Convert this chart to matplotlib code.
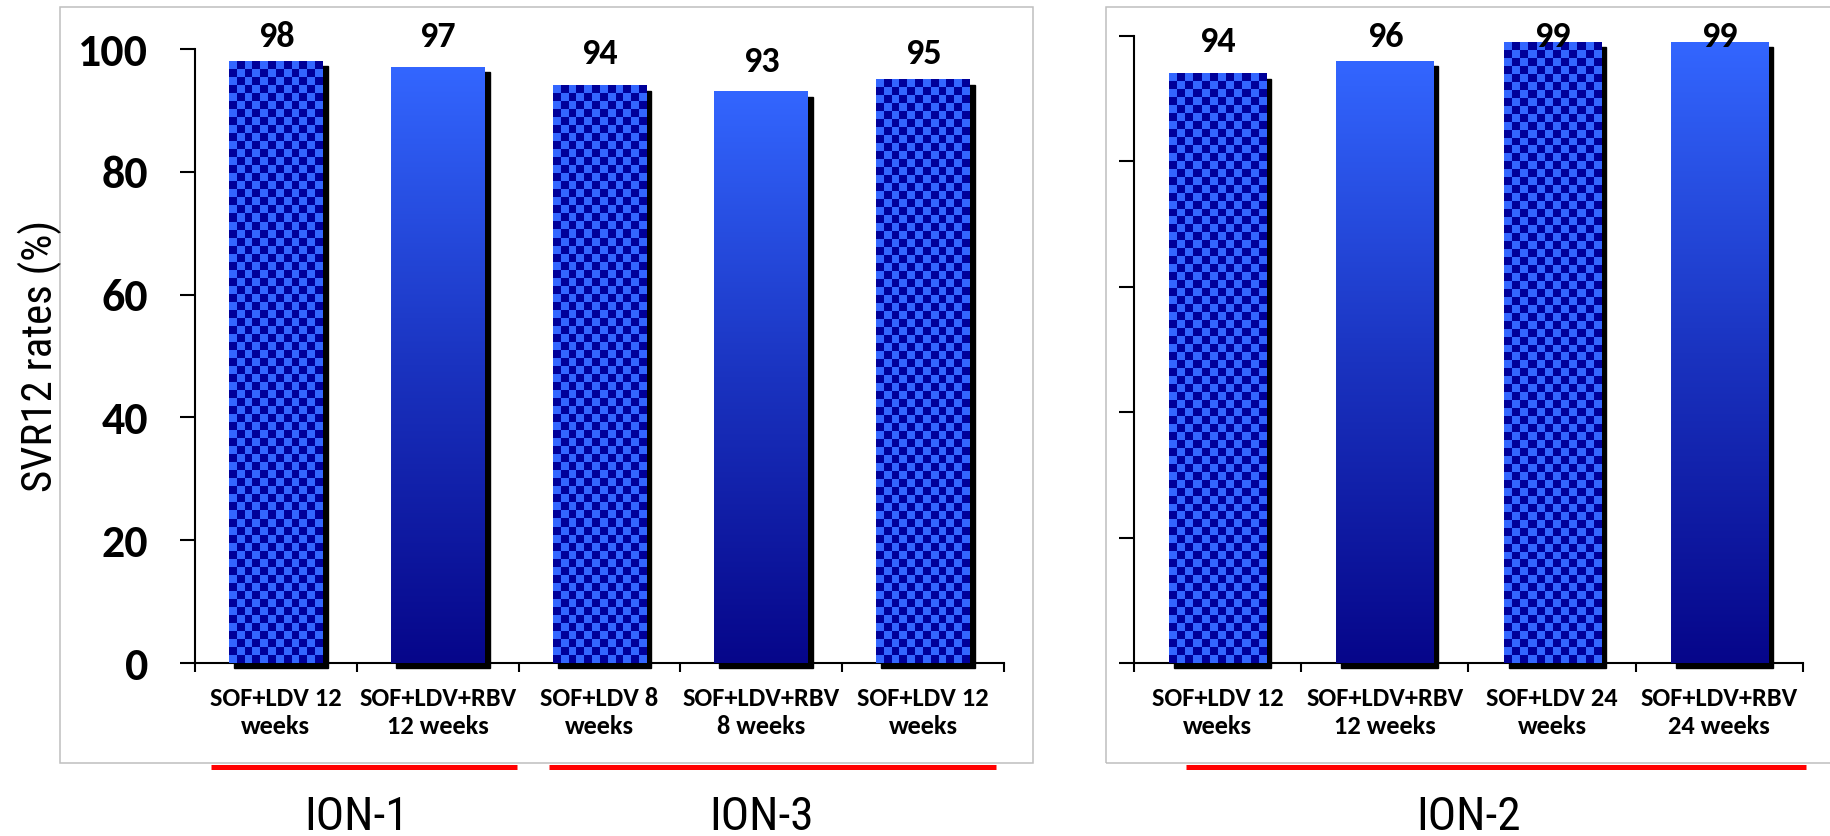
import matplotlib.pyplot as plt
import numpy as np
import matplotlib.transforms as mtransforms
from matplotlib.colors import LinearSegmentedColormap, to_rgb
from matplotlib.patches import Rectangle
from matplotlib.lines import Line2D

# ION-1 / ION-3 arms
left_labels = ["SOF+LDV 12\nweeks", "SOF+LDV+RBV\n12 weeks", "SOF+LDV 8\nweeks",
               "SOF+LDV+RBV\n8 weeks", "SOF+LDV 12\nweeks"]
left_svr = [98, 97, 94, 93, 95]
left_rbv = [False, True, False, True, False]
left_groups = [("ION-1", [0, 1]), ("ION-3", [2, 3, 4])]

# ION-2 arms
right_labels = ["SOF+LDV 12\nweeks", "SOF+LDV+RBV\n12 weeks", "SOF+LDV 24\nweeks",
                "SOF+LDV+RBV\n24 weeks"]
right_svr = [94, 96, 99, 99]
right_rbv = [False, True, False, True]
right_groups = [("ION-2", [0, 1, 2, 3])]

y_ticks = [0, 20, 40, 60, 80, 100]

# styling
light = "#3366FF"
dark = "#000099"
grad_cmap = LinearSegmentedColormap.from_list("bar", ["#06068A", "#1A33C0", light])
bar_width = 0.58
square_px = 8
shadow_px = 5
label_gap_left = [14, 20, 22, 20, 16]     # px between bar top and value
label_gap_right = [22, 14, -5, -5]
bracket_pad_left = [(-0.4, 0.49), (-0.31, 0.45)]
bracket_pad_right = [(-0.19, 0.52)]

plt.rcParams['font.family'] = ['Carlito', 'Lato', 'DejaVu Sans']
narrow = ['Roboto Condensed', 'Liberation Sans', 'DejaVu Sans']

W, H, DPI = 1831, 836, 100
fig = plt.figure(figsize=(W / DPI, H / DPI), dpi=DPI)

# panel frames
fig.add_artist(Rectangle((60 / W, 1 - 763 / H), 973 / W, 756 / H, transform=fig.transFigure,
                         fill=False, ec="#BFBFBF", lw=1.1))
fig.add_artist(Rectangle((1106 / W, 1 - 763 / H), 0.5, 756 / H, transform=fig.transFigure,
                         fill=False, ec="#BFBFBF", lw=1.1))

ax1 = fig.add_axes([195 / W, 1 - 663 / H, (1004 - 195) / W, (663 - 49) / H])
ax2 = fig.add_axes([1134 / W, 1 - 663 / H, (1803 - 1134) / W, (663 - 36) / H])


def draw_panel(ax, labels, values, rbv, gaps, groups, pads, show_ylabels):
    n = len(values)
    ax.set_xlim(-0.5, n - 0.5)
    ax.set_ylim(0, 100)
    bb = ax.get_position()
    px_x = n / (bb.width * W)       # data units per px, x
    px_y = 100 / (bb.height * H)    # data units per px, y

    for i, (v, solid) in enumerate(zip(values, rbv)):
        x0, x1 = i - bar_width / 2, i + bar_width / 2
        # drop shadow
        ax.add_patch(Rectangle((x0 + shadow_px * px_x, -shadow_px * px_y), bar_width, v,
                               color="black", zorder=2, clip_on=False))
        if solid:
            grad = np.linspace(0, 1, 256).reshape(-1, 1)
            ax.imshow(grad, cmap=grad_cmap, extent=[x0, x1, 0, v], origin="lower",
                      aspect="auto", interpolation="bilinear", zorder=3)
        else:
            nx = max(1, int(round(bar_width / px_x / square_px)))
            ny = max(1, int(round(v / px_y / square_px)))
            jj, ii = np.meshgrid(np.arange(nx), np.arange(ny))
            board = np.where(((ii + jj) % 2 == 0)[..., None],
                             np.array(to_rgb(light)), np.array(to_rgb(dark)))
            ax.imshow(board, extent=[x0, x1, 0, v], origin="upper",
                      aspect="auto", interpolation="nearest", zorder=3)
        ax.annotate(f"{v}", xy=(i, v), xytext=(0, gaps[i] * 0.72), textcoords="offset points",
                    ha="center", va="baseline", fontsize=26, fontweight="bold", zorder=5)

    ax.set_xlim(-0.5, n - 0.5)
    ax.set_ylim(0, 100)

    for s in ["top", "right"]:
        ax.spines[s].set_visible(False)
    for s in ["left", "bottom"]:
        ax.spines[s].set_linewidth(1.5)
        ax.spines[s].set_color("black")

    ax.set_yticks(y_ticks)
    ax.tick_params(axis="y", length=10.8, width=1.5, direction="out", pad=23)
    if show_ylabels:
        ax.set_yticklabels([str(t) for t in y_ticks], fontsize=33, fontweight="bold")
    else:
        ax.set_yticklabels([])

    ax.set_xticks(range(n))
    ax.set_xticklabels(labels, fontsize=19, fontweight="bold", linespacing=1.3)
    ax.tick_params(axis="x", which="major", length=0, pad=17)
    ax.set_xticks(np.arange(-0.5, n), minor=True)
    ax.tick_params(axis="x", which="minor", length=6.5, width=1.5, direction="out")

    # study brackets and names
    trans = mtransforms.blended_transform_factory(ax.transData, fig.transFigure)
    for (name, members), (p0, p1) in zip(groups, pads):
        fig.add_artist(Line2D([members[0] + p0, members[-1] + p1], [1 - 766.5 / H] * 2,
                              transform=trans, color="#FF0000", lw=3.6,
                              solid_capstyle="butt", clip_on=False))
        fig.text(np.mean(members), 1 - 830 / H, name, transform=trans, ha="center",
                 va="baseline", fontsize=34, family=narrow)


draw_panel(ax1, left_labels, left_svr, left_rbv, label_gap_left, left_groups,
           bracket_pad_left, True)
draw_panel(ax2, right_labels, right_svr, right_rbv, label_gap_right, right_groups,
           bracket_pad_right, False)

fig.text(40 / W, 1 - 356 / H, "SVR12 rates (%)", rotation=90, ha="center", va="center",
         fontsize=31, family=narrow)

fig.savefig("out.png", dpi=DPI)
